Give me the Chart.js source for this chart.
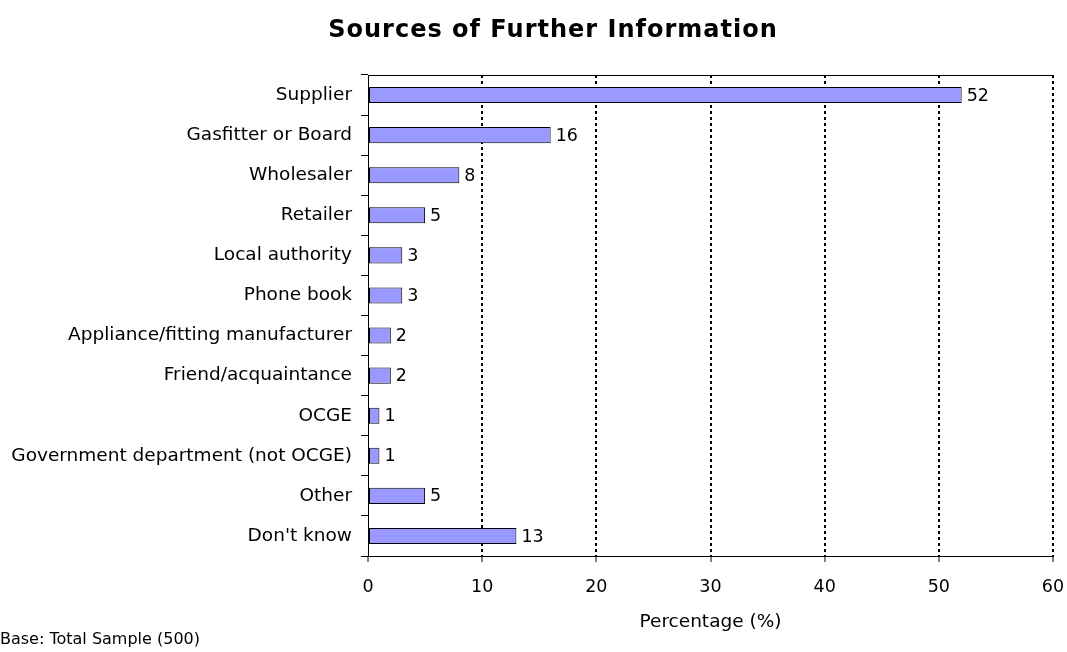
<!DOCTYPE html>
<html>
<head>
<meta charset="utf-8">
<script src="https://cdn.jsdelivr.net/npm/chart.js@4"></script>
<style>
  html, body { margin: 0; padding: 0; background: #fff; }
  #wrap { width: 1067px; height: 652px; }
</style>
</head>
<body>
<div id="wrap"><canvas id="sourcesChart" width="1067" height="652"></canvas></div>
<script>
const sources = [
    'Supplier', 'Gasfitter or Board', 'Wholesaler', 'Retailer', 'Local authority',
    'Phone book', 'Appliance/fitting manufacturer', 'Friend/acquaintance', 'OCGE',
    'Government department (not OCGE)', 'Other', "Don't know"
];
const percentages = [52, 16, 8, 5, 3, 3, 2, 2, 1, 1, 5, 13];
const xTicks = [0, 10, 20, 30, 40, 50, 60];

const chartTitle = 'Sources of Further Information';
const axisTitle = 'Percentage (%)';
const baseNote = 'Base: Total Sample (500)';

const FONT = "'DejaVu Sans', sans-serif";

// title, footnote, top border line and value labels
const extras = {
    id: 'extras',
    afterDraw(chart) {
        const { ctx, chartArea } = chart;
        ctx.save();
        ctx.fillStyle = '#000';
        ctx.font = 'bold 24px ' + FONT;
        ctx.letterSpacing = '1px';
        ctx.textAlign = 'center';
        ctx.textBaseline = 'middle';
        ctx.fillText(chartTitle, 553, 31);
        ctx.letterSpacing = '0px';

        ctx.font = '16px ' + FONT;
        ctx.textAlign = 'left';
        ctx.fillText(baseNote, 0, 640);

        ctx.strokeStyle = '#000';
        ctx.lineWidth = 1;
        ctx.beginPath();
        ctx.moveTo(chartArea.left, chartArea.top + 0.5);
        ctx.lineTo(chartArea.right, chartArea.top + 0.5);
        ctx.stroke();

        const meta = chart.getDatasetMeta(0);
        ctx.font = '17.5px ' + FONT;
        meta.data.forEach((bar, i) => {
            ctx.fillText(String(percentages[i]), bar.x + 5, bar.y + 1);
        });
        ctx.restore();
    }
};

new Chart(document.getElementById('sourcesChart'), {
    type: 'bar',
    data: {
        labels: sources,
        datasets: [{
            data: percentages,
            backgroundColor: '#9999FF',
            borderColor: '#000',
            borderWidth: 1,
            borderSkipped: false,
            barPercentage: 0.4,
            categoryPercentage: 1
        }]
    },
    options: {
        indexAxis: 'y',
        responsive: false,
        animation: false,
        layout: { padding: { top: 75, right: 14, left: 0, bottom: 15 } },
        plugins: {
            legend: { display: false },
            tooltip: { enabled: false }
        },
        scales: {
            x: {
                min: 0,
                max: 60,
                afterFit(scale) {
                    scale.height = 81;
                    scale.paddingLeft = 0;
                    scale.paddingRight = 0;
                },
                afterBuildTicks(scale) { scale.ticks = xTicks.map(v => ({ value: v })); },
                grid: {
                    color: ctx => ctx.index === 0 ? 'rgba(0,0,0,0)' : '#000',
                    lineWidth: 2,
                    tickColor: '#000',
                    tickWidth: 1,
                    tickLength: 6
                },
                border: { color: '#000', width: 1, dash: [3, 3] },
                ticks: {
                    color: '#000',
                    font: { family: FONT, size: 17.5 },
                    padding: 15,
                    maxRotation: 0
                },
                title: {
                    display: true,
                    text: axisTitle,
                    color: '#000',
                    font: { family: FONT, size: 18.5 }
                }
            },
            y: {
                afterFit(scale) { scale.width = 368; },
                grid: {
                    offset: true,
                    drawOnChartArea: false,
                    color: '#000',
                    tickLength: 7
                },
                border: { color: '#000', width: 1 },
                ticks: {
                    color: '#000',
                    font: { family: FONT, size: 18.5 },
                    padding: 9
                }
            }
        }
    },
    plugins: [extras]
});
</script>
</body>
</html>
